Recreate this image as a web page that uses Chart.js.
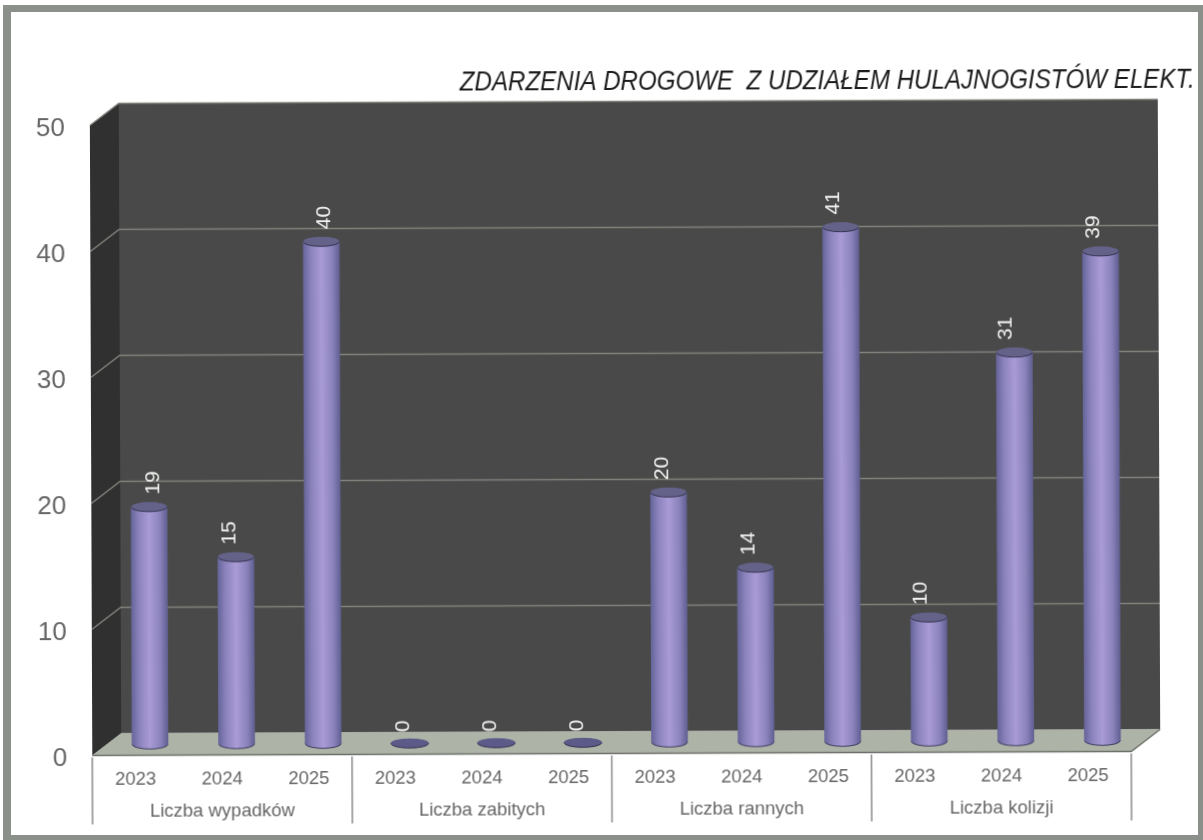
<!DOCTYPE html>
<html>
<head>
<meta charset="utf-8">
<title>Zdarzenia drogowe</title>
<script src="https://cdn.jsdelivr.net/npm/chart.js@4/dist/chart.umd.min.js"></script>
<style>
    html, body { margin: 0; padding: 0; background: #fff; }
    body { width: 1203px; height: 840px; overflow: hidden; position: relative; }
    .frame {
        position: absolute; left: 3px; top: 5px; width: 1187px; height: 823px;
        border-style: solid; border-color: #8b908a;
        border-width: 7px 8px 5px 8px;
    }
    /* the source is a slightly crooked scan */
    canvas { position: absolute; left: 0; top: 0; transform: rotate(-0.22deg); }
</style>
</head>
<body>
<div class="frame"></div>
<canvas id="chart" width="1203" height="840"></canvas>
<script>
/* ==================== Data ==================== */
const titleText = 'ZDARZENIA DROGOWE  Z UDZIAŁEM HULAJNOGISTÓW ELEKT.';
const yearLabels = ['2023', '2024', '2025', '2023', '2024', '2025', '2023', '2024', '2025', '2023', '2024', '2025'];
const groupLabels = ['Liczba wypadków', 'Liczba zabitych', 'Liczba rannych', 'Liczba kolizji'];
const seriesValues = [19, 15, 40, 0, 0, 0, 20, 14, 41, 10, 31, 39];
const yTicks = [0, 10, 20, 30, 40, 50];

/* ==================== Look ==================== */
const DEPTH_X = 29;
const DEPTH_Y = 22;
const BAR_SHIFT_Y = 9;
const BAR_WIDTH = 36;
const CAP_RY = 4.8;
const FONT = '"Liberation Sans", Arial, sans-serif';
// the value labels do not sit centred on their bars in the source
const labelNudge = [4, -6, 3, -6, -6, -6, -6, -7, -7, -8, -8, -7];

function barGradient(ctx, x) {
    if (!Number.isFinite(x)) return '#8c84c4'; // scale not laid out yet
    const g = ctx.createLinearGradient(x - BAR_WIDTH / 2, 0, x + BAR_WIDTH / 2, 0);
    g.addColorStop(0, '#66659a');
    g.addColorStop(0.2, '#8a82bb');
    g.addColorStop(0.5, '#a99bd6');
    g.addColorStop(0.8, '#8a82bb');
    g.addColorStop(1, '#605f92');
    return g;
}

/* ==================== 3D box and cylinders ==================== */
const box3d = {
    id: 'box3d',
    afterLayout(chart) {
        // title runs past the plot up to the frame, squeezed to the source's width
        chart.titleBlock.left = 461;
        chart.titleBlock.right = 1196;
    },
    beforeDatasetsDraw(chart) {
        const { ctx, chartArea: a, scales: { y } } = chart;
        ctx.save();
        // back wall
        ctx.fillStyle = '#494949';
        ctx.fillRect(a.left + DEPTH_X, a.top - DEPTH_Y, a.width, a.height);
        // side wall
        ctx.fillStyle = '#303030';
        ctx.beginPath();
        ctx.moveTo(a.left, a.top);
        ctx.lineTo(a.left + DEPTH_X, a.top - DEPTH_Y);
        ctx.lineTo(a.left + DEPTH_X, a.bottom - DEPTH_Y);
        ctx.lineTo(a.left, a.bottom);
        ctx.closePath();
        ctx.fill();
        // floor
        ctx.fillStyle = '#aeb3a8';
        ctx.strokeStyle = '#6d706a';
        ctx.lineWidth = 1.5;
        ctx.beginPath();
        ctx.moveTo(a.left, a.bottom);
        ctx.lineTo(a.left + DEPTH_X, a.bottom - DEPTH_Y);
        ctx.lineTo(a.right + DEPTH_X, a.bottom - DEPTH_Y);
        ctx.lineTo(a.right, a.bottom);
        ctx.closePath();
        ctx.fill();
        ctx.beginPath();
        ctx.moveTo(a.left, a.bottom);
        ctx.lineTo(a.right, a.bottom);
        ctx.lineTo(a.right + DEPTH_X, a.bottom - DEPTH_Y);
        ctx.stroke();
        // grid lines along side wall and back wall
        ctx.strokeStyle = '#80827b';
        ctx.lineWidth = 1.5;
        yTicks.forEach(v => {
            if (v === 0) return;
            const py = y.getPixelForValue(v);
            ctx.beginPath();
            ctx.moveTo(a.left, py);
            ctx.lineTo(a.left + DEPTH_X, py - DEPTH_Y);
            ctx.lineTo(a.right + DEPTH_X, py - DEPTH_Y);
            ctx.stroke();
        });
        ctx.restore();
    },
    beforeDatasetDraw(chart, args) {
        const { ctx } = chart;
        ctx.save();
        // bars stand halfway into the box
        ctx.translate(DEPTH_X / 2, -BAR_SHIFT_Y);
        args.meta.data.forEach((bar, i) => {
            if (seriesValues[i] === 0) return;
            ctx.fillStyle = barGradient(ctx, bar.x);
            ctx.strokeStyle = '#3e3c5e';
            ctx.lineWidth = 1;
            ctx.beginPath();
            ctx.ellipse(bar.x, bar.base, BAR_WIDTH / 2, CAP_RY, 0, 0, Math.PI * 2);
            ctx.fill();
            ctx.beginPath();
            ctx.ellipse(bar.x, bar.base, BAR_WIDTH / 2, CAP_RY, 0, 0, Math.PI);
            ctx.stroke();
        });
    },
    afterDatasetDraw(chart, args) {
        const { ctx } = chart;
        args.meta.data.forEach((bar, i) => {
            const flat = seriesValues[i] === 0;
            const cy = flat ? bar.base : bar.y;
            ctx.fillStyle = flat ? '#5b5a88' : '#646289';
            ctx.strokeStyle = '#35344f';
            ctx.lineWidth = 1;
            ctx.beginPath();
            ctx.ellipse(bar.x, cy, flat ? 19 : BAR_WIDTH / 2, CAP_RY, 0, 0, Math.PI * 2);
            ctx.fill();
            ctx.beginPath();
            ctx.ellipse(bar.x, cy, flat ? 19 : BAR_WIDTH / 2, CAP_RY, 0, 0, Math.PI);
            ctx.stroke();
        });
        // value labels, turned on their side
        ctx.fillStyle = '#eef1ee';
        ctx.font = '21px ' + FONT;
        ctx.textAlign = 'center';
        ctx.textBaseline = 'middle';
        args.meta.data.forEach((bar, i) => {
            const flat = seriesValues[i] === 0;
            ctx.save();
            ctx.translate(bar.x + labelNudge[i], flat ? bar.base - 17 : bar.y - 24);
            ctx.rotate(-Math.PI / 2);
            ctx.fillText(String(seriesValues[i]), 0, 0);
            ctx.restore();
        });
        ctx.restore();
    },
    afterDraw(chart) {
        // second row of the category axis
        const { ctx, chartArea: a, scales: { x } } = chart;
        const step = x.getPixelForValue(1) - x.getPixelForValue(0);
        ctx.save();
        ctx.strokeStyle = '#8a8a8a';
        ctx.lineWidth = 1.5;
        ctx.fillStyle = '#666';
        ctx.font = '18.5px ' + FONT;
        ctx.textAlign = 'center';
        ctx.textBaseline = 'middle';
        groupLabels.forEach((label, g) => {
            const first = x.getPixelForValue(g * 3) - step / 2;
            ctx.beginPath();
            ctx.moveTo(first, a.bottom + 2);
            ctx.lineTo(first, a.bottom + 69);
            ctx.stroke();
            ctx.fillText(label, first + step * 1.5, a.bottom + 56);
        });
        ctx.beginPath();
        ctx.moveTo(a.right, a.bottom + 2);
        ctx.lineTo(a.right, a.bottom + 69);
        ctx.stroke();
        ctx.restore();
    }
};

/* ==================== Chart ==================== */
new Chart(document.getElementById('chart'), {
    type: 'bar',
    data: {
        labels: yearLabels,
        datasets: [{
            data: seriesValues,
            barThickness: BAR_WIDTH,
            base: 0.16,
            borderWidth: 0,
            clip: false,
            backgroundColor: c => seriesValues[c.dataIndex] === 0
                ? 'rgba(0,0,0,0)'
                : barGradient(c.chart.ctx, c.chart.scales.x.getPixelForValue(c.dataIndex))
        }]
    },
    options: {
        responsive: false,
        animation: false,
        layout: { padding: { left: 0, right: 73, top: 0, bottom: 0 } },
        plugins: {
            legend: { display: false },
            tooltip: { enabled: false },
            title: {
                display: true,
                text: titleText,
                align: 'end',
                color: '#1c1c1c',
                font: { family: FONT, size: 28.5, style: 'italic', weight: 'normal', lineHeight: 1.2 },
                padding: { top: 65, bottom: 24.3 }
            }
        },
        scales: {
            x: {
                afterFit(s) { s.height = 86.5; },
                grid: { display: false, drawTicks: false },
                border: { display: false },
                ticks: { color: '#666', font: { family: FONT, size: 18.5 }, padding: 13, autoSkip: false, maxRotation: 0 }
            },
            y: {
                min: 0,
                max: 50,
                afterFit(s) { s.width = 91; },
                afterBuildTicks(s) { s.ticks = yTicks.map(v => ({ value: v })); },
                grid: { display: false, drawTicks: false },
                border: { display: false },
                ticks: { color: '#666', font: { family: FONT, size: 26 }, padding: 25, labelOffset: 3.5 }
            }
        }
    },
    plugins: [box3d]
});
</script>
</body>
</html>
